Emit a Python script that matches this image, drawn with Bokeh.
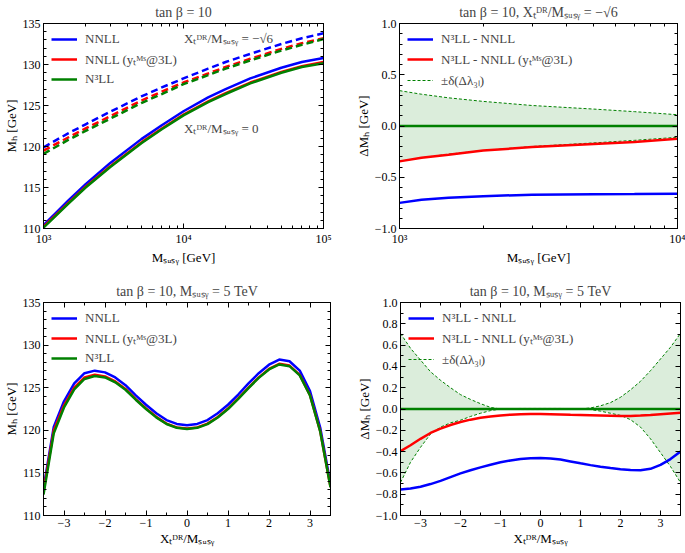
from bokeh.plotting import figure
from bokeh.layouts import column, row
from bokeh.models import (FixedTicker, SingleIntervalTicker, LinearAxis, Legend, LegendItem,
                          Label, CustomJSTickFormatter, Range1d, CustomLabelingPolicy)
from bokeh.embed import file_html
from bokeh.resources import INLINE

FONT = "Liberation Serif"
BLUE, RED, GREEN = "#0000ff", "#ff0000", "#008000"

# ---------------- data: top-left (Mh vs MSUSY, tan beta = 10) ----------------
msusy_tl = [1000, 1500, 2000, 3000, 5000, 7000, 10000, 15000, 20000, 30000, 50000, 70000, 100000]
nnll_x0 = [110.4, 113.4, 115.4, 118.0, 120.9, 122.6, 124.3, 126.0, 127.0, 128.3, 129.6, 130.3, 130.8]
nnll3l_x0 = [110.2, 113.1, 115.1, 117.6, 120.5, 122.2, 123.9, 125.5, 126.5, 127.8, 129.1, 129.8, 130.3]
n3ll_x0 = [110.1, 113.0, 115.0, 117.5, 120.4, 122.1, 123.8, 125.4, 126.4, 127.7, 129.0, 129.7, 130.15]
nnll_xm = [119.9, 121.6, 122.7, 124.25, 126.1, 127.2, 128.3, 129.5, 130.3, 131.3, 132.5, 133.2, 133.8]
nnll3l_xm = [119.5, 121.1, 122.2, 123.7, 125.6, 126.7, 127.8, 128.9, 129.7, 130.7, 131.9, 132.6, 133.2]
n3ll_xm = [119.1, 120.8, 121.9, 123.4, 125.3, 126.4, 127.6, 128.7, 129.5, 130.5, 131.7, 132.4, 133.1]

# ---------------- data: top-right (Delta Mh vs MSUSY, Xt = -sqrt6) ----------------
msusy_tr = [1000, 1200, 1500, 2000, 3000, 5000, 7000, 10000]
d_nnll_tr = [-0.75, -0.72, -0.70, -0.685, -0.67, -0.665, -0.663, -0.66]
d_nnll3l_tr = [-0.345, -0.31, -0.28, -0.24, -0.205, -0.175, -0.155, -0.125]
delta_up_tr = [0.345, 0.31, 0.275, 0.24, 0.20, 0.165, 0.14, 0.11]
delta_lo_tr = [-0.345, -0.31, -0.275, -0.24, -0.20, -0.165, -0.14, -0.11]
zero_tr = [0, 0, 0, 0, 0, 0, 0, 0]

# ---------------- data: bottom-left (Mh vs Xt/MSUSY, MSUSY = 5 TeV) ----------------
xt = [-3.5, -3.25, -3.0, -2.75, -2.5, -2.25, -2.0, -1.75, -1.5, -1.25, -1.0, -0.75, -0.5, -0.25, 0.0,
      0.25, 0.5, 0.75, 1.0, 1.25, 1.5, 1.75, 2.0, 2.25, 2.5, 2.75, 3.0, 3.25, 3.5]
nnll_bl = [113.2, 120.4, 123.4, 125.5, 126.7, 127.0, 126.8, 126.2, 125.3, 124.1, 123.0, 122.0, 121.2, 120.75, 120.6,
           120.75, 121.2, 122.0, 123.0, 124.2, 125.5, 126.7, 127.7, 128.3, 128.1, 127.0, 124.6, 120.3, 113.7]
nnll3l_bl = [112.85, 119.97, 122.94, 125.02, 126.21, 126.51, 126.32, 125.73, 124.85, 123.66, 122.57, 121.58, 120.79, 120.34, 120.2,
             120.34, 120.78, 121.57, 122.55, 123.74, 125.02, 126.21, 127.2, 127.8, 127.6, 126.5, 124.12, 119.87, 113.34]
n3ll_bl = [112.45, 119.65, 122.68, 124.8, 126.03, 126.37, 126.2, 125.63, 124.76, 123.59, 122.5, 121.52, 120.74, 120.29, 120.14,
           120.29, 120.73, 121.51, 122.49, 123.68, 124.96, 126.15, 127.14, 127.73, 127.53, 126.45, 124.08, 119.83, 113.3]

# ---------------- data: bottom-right (Delta Mh vs Xt/MSUSY) ----------------
d_nnll_br = [-0.756, -0.747, -0.73, -0.705, -0.675, -0.64, -0.605, -0.575, -0.548, -0.523, -0.50, -0.483, -0.47, -0.462, -0.46,
             -0.464, -0.475, -0.492, -0.51, -0.527, -0.542, -0.555, -0.565, -0.573, -0.575, -0.562, -0.525, -0.47, -0.40]
d_nnll3l_br = [-0.395, -0.34, -0.28, -0.225, -0.185, -0.15, -0.122, -0.1, -0.083, -0.07, -0.06, -0.053, -0.049, -0.047, -0.047,
               -0.049, -0.052, -0.055, -0.057, -0.059, -0.061, -0.063, -0.065, -0.065, -0.062, -0.057, -0.05, -0.043, -0.036]
delta_up_br = [0.71, 0.57, 0.46, 0.35, 0.27, 0.20, 0.135, 0.09, 0.05, 0.015, 0.0, -0.004, -0.005, -0.005, -0.005,
               -0.005, -0.005, -0.004, 0.0, 0.01, 0.03, 0.06, 0.11, 0.18, 0.26, 0.36, 0.47, 0.58, 0.71]
delta_lo_br = [-0.69, -0.50, -0.36, -0.235, -0.17, -0.13, -0.105, -0.07, -0.04, -0.015, 0.0, 0.004, 0.005, 0.005, 0.005,
               0.005, 0.005, 0.004, 0.0, -0.005, -0.02, -0.04, -0.06, -0.10, -0.17, -0.28, -0.41, -0.54, -0.69]
zero_br = [0.0] * len(xt)

# ---------------- text ----------------
MS = "M\u209b\u1d64\u209b\u1d67"
XT = "X\u209c\u1d30\u1d3f"
MH = "M\u2095"
title_tl = "tan \u03b2 = 10"
title_tr = "tan \u03b2 = 10, " + XT + "/" + MS + " = \u2212\u221a6"
title_b = "tan \u03b2 = 10, " + MS + " = 5 TeV"
labels_left = ["NNLL", "NNLL (y\u209c\u1d39\u02e2@3L)", "N\u00b3LL"]
labels_right = ["N\u00b3LL - NNLL", "N\u00b3LL - NNLL (y\u209c\u1d39\u02e2@3L)", "\u00b1\u03b4(\u0394\u03bb\u2083\u2097)"]

log_major = [1e3, 1e4, 1e5]
log_minor = [k * 10.0 ** e for e in (3, 4) for k in range(2, 10)]
log_labels = {1000: "10\u00b3", 10000: "10\u2074", 100000: "10\u2075"}

fmt1 = CustomJSTickFormatter(code="const v = Math.abs(tick) < 1e-9 ? 0 : tick; return (v < 0 ? '\u2212' : '') + Math.abs(v).toFixed(1);")
fmt0 = CustomJSTickFormatter(code="const v = Math.round(tick); return (v < 0 ? '\u2212' : '') + Math.abs(v).toFixed(0);")


def style_axis(ax, ticker, fmt=None, overrides=None, show=True):
    ax.ticker = ticker
    if fmt is not None:
        ax.formatter = fmt
    if overrides is not None:
        ax.major_label_overrides = overrides
    ax.major_tick_in = 5
    ax.major_tick_out = 0
    ax.minor_tick_in = 3
    ax.minor_tick_out = 0
    ax.axis_line_color = "black"
    ax.major_tick_line_color = "black"
    ax.minor_tick_line_color = "black"
    ax.major_label_text_font = FONT
    ax.major_label_text_font_size = "12px"
    ax.major_label_text_color = "black"
    ax.major_label_standoff = 3
    ax.axis_label_text_font = FONT
    ax.axis_label_text_font_size = "13px"
    ax.axis_label_text_font_style = "normal"
    ax.axis_label_text_color = "black"
    ax.axis_label_standoff = 1
    if not show:
        # mirrored axis: ticks only, no labels drawn
        ax.major_label_policy = CustomLabelingPolicy(code="return new Set()")
        ax.major_label_text_font_size = "1px"
        ax.major_label_standoff = 0


def make_fig(width, height, xr, yr, xticker, yticker, title, xlabel, ylabel, log=False,
             xfmt=None, yfmt=None, xover=None, borders=(30, 10, 16, 40)):
    kw = dict(x_axis_type="log") if log else {}
    p = figure(width=width, height=height, x_range=Range1d(*xr), y_range=Range1d(*yr),
               output_backend="svg", toolbar_location=None,
               min_border_left=borders[0], min_border_right=borders[1],
               min_border_top=borders[2], min_border_bottom=borders[3], **kw)
    p.title.text = title
    p.title.align = "center"
    p.title.text_font = FONT
    p.title.text_font_size = "14px"
    p.title.text_font_style = "normal"
    p.title.offset = 0
    p.title.standoff = 0
    p.xgrid.visible = False
    p.ygrid.visible = False
    p.outline_line_color = "black"
    p.outline_line_width = 1
    style_axis(p.xaxis[0], xticker, xfmt, xover)
    style_axis(p.yaxis[0], yticker, yfmt)
    p.xaxis[0].axis_label = xlabel
    p.yaxis[0].axis_label = ylabel
    top = LinearAxis()
    style_axis(top, xticker, show=False)
    right = LinearAxis()
    style_axis(right, yticker, show=False)
    p.add_layout(top, "above")
    p.add_layout(right, "right")
    return p


def add_legend(p, items):
    leg = Legend(items=[LegendItem(label=l, renderers=[r]) for l, r in items], location="top_left",
                 border_line_alpha=0, background_fill_alpha=0, label_text_font=FONT,
                 label_text_font_size="13px", glyph_width=26, glyph_height=14, spacing=3,
                 padding=4, margin=4, label_standoff=8)
    p.add_layout(leg)


LW = 2.5

# ---------------- top-left ----------------
p1 = make_fig(340, 270, (1e3, 1e5), (110, 135),
              FixedTicker(ticks=log_major, minor_ticks=log_minor),
              SingleIntervalTicker(interval=5, num_minor_ticks=5),
              title_tl, MS + " [GeV]", MH + " [GeV]", log=True, xover=log_labels,
              borders=(39, 17, 17, 42))
p1.line(msusy_tl, nnll_xm, color=BLUE, line_width=LW, line_dash="7 4")
p1.line(msusy_tl, nnll3l_xm, color=RED, line_width=LW, line_dash="7 4")
p1.line(msusy_tl, n3ll_xm, color=GREEN, line_width=LW, line_dash="7 4")
r1 = p1.line(msusy_tl, nnll_x0, color=BLUE, line_width=LW)
r2 = p1.line(msusy_tl, nnll3l_x0, color=RED, line_width=LW)
r3 = p1.line(msusy_tl, n3ll_x0, color=GREEN, line_width=LW)
add_legend(p1, list(zip(labels_left, [r1, r2, r3])))
p1.add_layout(Label(x=10100, y=133.2, text=XT + "/" + MS + " = \u2212\u221a6", text_font=FONT,
                    text_font_size="13px", text_baseline="middle", text_align="left"))
p1.add_layout(Label(x=10100, y=122.2, text=XT + "/" + MS + " = 0", text_font=FONT,
                    text_font_size="13px", text_baseline="middle", text_align="left"))

# ---------------- top-right ----------------
p2 = make_fig(345, 270, (1e3, 1e4), (-1, 1),
              FixedTicker(ticks=log_major, minor_ticks=log_minor),
              SingleIntervalTicker(interval=0.5, num_minor_ticks=5),
              title_tr, MS + " [GeV]", "\u0394" + MH + " [GeV]", log=True, xover=log_labels,
              yfmt=fmt1, borders=(59, 8, 23, 41))
p2.varea(x=msusy_tr, y1=delta_lo_tr, y2=delta_up_tr, fill_color=GREEN, fill_alpha=0.14)
p2.line(msusy_tr, delta_lo_tr, color=GREEN, line_width=1, line_dash="3 2")
q3 = p2.line(msusy_tr, delta_up_tr, color=GREEN, line_width=1, line_dash="3 2")
p2.line(msusy_tr, zero_tr, color=GREEN, line_width=LW)
q1 = p2.line(msusy_tr, d_nnll_tr, color=BLUE, line_width=LW)
q2 = p2.line(msusy_tr, d_nnll3l_tr, color=RED, line_width=LW)
add_legend(p2, list(zip(labels_right, [q1, q2, q3])))

# ---------------- bottom-left ----------------
p3 = make_fig(340, 283, (-3.5, 3.5), (110, 135),
              SingleIntervalTicker(interval=1, num_minor_ticks=2),
              SingleIntervalTicker(interval=5, num_minor_ticks=5),
              title_b, XT + "/" + MS, MH + " [GeV]", xfmt=fmt0,
              borders=(40, 10, 32, 38))
s1 = p3.line(xt, nnll_bl, color=BLUE, line_width=LW)
s2 = p3.line(xt, nnll3l_bl, color=RED, line_width=LW)
s3 = p3.line(xt, n3ll_bl, color=GREEN, line_width=LW)
add_legend(p3, list(zip(labels_left, [s1, s2, s3])))

# ---------------- bottom-right ----------------
p4 = make_fig(345, 283, (-3.5, 3.5), (-1, 1),
              SingleIntervalTicker(interval=1, num_minor_ticks=2),
              SingleIntervalTicker(interval=0.2, num_minor_ticks=2),
              title_b, XT + "/" + MS, "\u0394" + MH + " [GeV]", xfmt=fmt0, yfmt=fmt1,
              borders=(60, 1, 32, 38))
p4.varea(x=xt, y1=delta_lo_br, y2=delta_up_br, fill_color=GREEN, fill_alpha=0.14)
p4.line(xt, delta_lo_br, color=GREEN, line_width=1, line_dash="3 2")
t3 = p4.line(xt, delta_up_br, color=GREEN, line_width=1, line_dash="3 2")
p4.line(xt, zero_br, color=GREEN, line_width=LW)
t1 = p4.line(xt, d_nnll_br, color=BLUE, line_width=LW)
t2 = p4.line(xt, d_nnll3l_br, color=RED, line_width=LW)
add_legend(p4, list(zip(labels_right, [t1, t2, t3])))

layout = column(row(p1, p2), row(p3, p4))
open("out.html", "w").write(file_html(layout, INLINE))
